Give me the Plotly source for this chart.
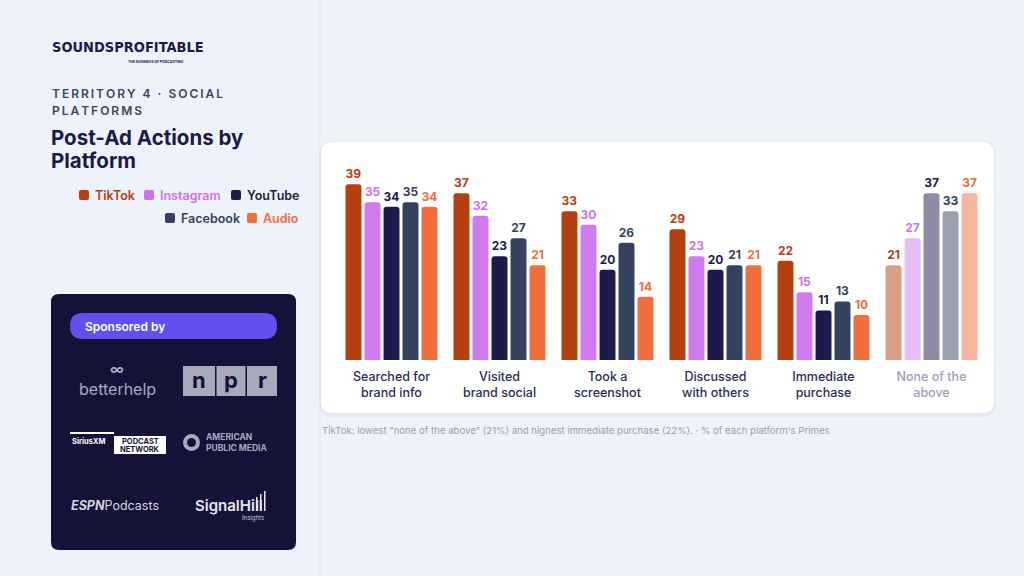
import plotly.graph_objects as go

# ---- data ----
categories = ["Searched for<br>brand info", "Visited<br>brand social", "Took a<br>screenshot",
              "Discussed<br>with others", "Immediate<br>purchase", "None of the<br>above"]
platforms = ["TikTok", "Instagram", "YouTube", "Facebook", "Audio"]
tiktok = [39, 37, 33, 29, 22, 21]
instagram = [35, 32, 30, 23, 15, 27]
youtube = [34, 23, 20, 20, 11, 37]
facebook = [35, 27, 26, 21, 13, 33]
audio = [34, 21, 14, 21, 10, 37]
footnote = ("TikTok: lowest \"none of the above\" (21%) and highest immediate purchase (22%). "
            "· % of each platform's Primes")

series = [tiktok, instagram, youtube, facebook, audio]
colors = ["#b5400f", "#d07af0", "#1c1a4a", "#33435e", "#f26d3d"]
label_colors = ["#b5400f", "#cf72ef", "#1c1a4a", "#33435e", "#f26d3d"]

W, H = 1024, 576
FONT = "Inter, Noto Sans, sans-serif"


def px(x):
    return x / W


def py(y):
    return 1 - y / H


def rounded_rect(x0, y0, x1, y1, r):
    # pixel coords -> paper path with rounded corners
    rx, ry = r / W, r / H
    a, b, c, d = px(x0), py(y1), px(x1), py(y0)
    return (f"M{a + rx},{b} L{c - rx},{b} Q{c},{b} {c},{b + ry} "
            f"L{c},{d - ry} Q{c},{d} {c - rx},{d} L{a + rx},{d} "
            f"Q{a},{d} {a},{d - ry} L{a},{b + ry} Q{a},{b} {a + rx},{b} Z")


fig = go.Figure()

n_cat = len(categories)
for name, vals, col, lcol in zip(platforms, series, colors, label_colors):
    fig.add_trace(go.Bar(
        x=categories, y=vals, name=name,
        marker=dict(color=col, opacity=[1] * (n_cat - 1) + [0.5], line=dict(width=0)),
        text=vals, textposition="outside", cliponaxis=False,
        textfont=dict(family=FONT, size=12, color=lcol, weight="bold"),
        hoverinfo="skip", showlegend=False,
    ))

shapes = []
annotations = []

# left panel + divider
shapes.append(dict(type="rect", xref="paper", yref="paper", x0=0, x1=px(320), y0=0, y1=1,
                   fillcolor="#eef2fb", line=dict(width=0), layer="below"))
shapes.append(dict(type="line", xref="paper", yref="paper", x0=px(320), x1=px(320), y0=0, y1=1,
                   line=dict(color="#e3e7f1", width=1), layer="below"))

# chart card with soft shadow
shapes.append(dict(type="path", xref="paper", yref="paper", path=rounded_rect(319, 141, 996, 417, 14),
                   fillcolor="rgba(120,130,170,0.08)", line=dict(width=0), layer="below"))
shapes.append(dict(type="path", xref="paper", yref="paper", path=rounded_rect(321, 142, 994, 413, 12),
                   fillcolor="white", line=dict(width=0), layer="below"))

# sponsor box
shapes.append(dict(type="path", xref="paper", yref="paper", path=rounded_rect(51, 294, 296, 550, 8),
                   fillcolor="#15123a", line=dict(width=0), layer="below"))
shapes.append(dict(type="path", xref="paper", yref="paper", path=rounded_rect(70, 313, 277, 339, 13),
                   fillcolor="#6150f0", line=dict(width=0), layer="below"))


def text(x, y, s, size, color, weight="normal", xanchor="left", family=FONT, style="normal"):
    annotations.append(dict(x=px(x), y=py(y), xref="paper", yref="paper", text=s, showarrow=False,
                            xanchor=xanchor, yanchor="middle",
                            font=dict(family=family, size=size, color=color, weight=weight, style=style)))


def spaced(s):
    return "\u2009".join(s)


# header
text(50, 47, "SOUNDSPROFITABLE", 14.5, "#1c1a4a", 800,
     family="DejaVu Sans Condensed, Inter, sans-serif")
text(186, 62, "THE BUSINESS OF PODCASTING", 3.5, "#1c1a4a", "bold", xanchor="right")
text(50, 94, spaced("TERRITORY 4 · SOCIAL"), 12, "#3c4560", 600)
text(50, 110, spaced("PLATFORMS"), 12, "#3c4560", 600)
text(49, 137, "Post-Ad Actions by", 20.5, "#1c1a4a", "bold")
text(49, 160, "Platform", 20.5, "#1c1a4a", "bold")

# legend
legend_pos = [(79, 195), (144, 195), (231, 195), (165, 218), (247, 218)]
for name, col, (lx, ly) in zip(platforms, label_colors, legend_pos):
    shapes.append(dict(type="path", xref="paper", yref="paper",
                       path=rounded_rect(lx, ly - 5, lx + 10, ly + 5, 2),
                       fillcolor=col, line=dict(width=0)))
    text(lx + 14, ly, name, 12.5, col, 600)

# sponsors
text(83, 326, "Sponsored by", 12, "white", 600)
text(117, 368, "∞", 14, "#a9a9bd", "bold", xanchor="center")
text(117, 389, "betterhelp", 16, "#a9a9bd", "normal", xanchor="center")
for bx0, bx1, letter in [(183, 215, "n"), (216.5, 245.5, "p"), (247, 277, "r")]:
    shapes.append(dict(type="rect", xref="paper", yref="paper", x0=px(bx0), x1=px(bx1),
                       y0=py(396), y1=py(366), fillcolor="#a9a9bc", line=dict(width=0)))
    text((bx0 + bx1) / 2, 380, letter, 22, "#15123a", "bold", xanchor="center")

shapes.append(dict(type="rect", xref="paper", yref="paper", x0=px(70), x1=px(114), y0=py(434),
                   y1=py(432), fillcolor="white", line=dict(width=0)))
text(70, 441, "SiriusXM", 7.5, "white", "bold")
shapes.append(dict(type="rect", xref="paper", yref="paper", x0=px(114), x1=px(166), y0=py(454),
                   y1=py(436), fillcolor="white", line=dict(width=0)))
text(140, 441, "PODCAST", 7.5, "#15123a", "bold", xanchor="center")
text(140, 449, "NETWORK", 7.5, "#15123a", "bold", xanchor="center")

shapes.append(dict(type="circle", xref="paper", yref="paper", x0=px(185), x1=px(198), y0=py(449),
                   y1=py(436), fillcolor="rgba(0,0,0,0)", line=dict(color="#a9a9bc", width=4)))
text(204, 437, "AMERICAN", 8.5, "#a9a9bc", "bold")
text(204, 448, "PUBLIC MEDIA", 8.5, "#a9a9bc", "bold")

text(69, 505, "<b><i>ESPN</i></b>Podcasts", 12.5, "#d4d4de", "normal")
text(193, 505, "SignalHill", 15, "#e6e6ee", 600)
text(266, 518, "Insights", 6, "#c8c8d4", "normal", xanchor="right")
for i, top in enumerate([497, 494, 491]):
    shapes.append(dict(type="rect", xref="paper", yref="paper", x0=px(256 + i * 4), x1=px(257.5 + i * 4),
                       y0=py(511), y1=py(top), fillcolor="#e6e6ee", line=dict(width=0)))

# footnote
text(320, 430, footnote, 9.6, "#9aa0ad", "normal")

tick_text = [c if i < n_cat - 1 else f"<span style='color:#9aa0b5'>{c}</span>"
             for i, c in enumerate(categories)]

fig.update_layout(
    width=W, height=H,
    margin=dict(l=0, r=0, t=0, b=0),
    paper_bgcolor="#f0f2f9",
    plot_bgcolor="rgba(0,0,0,0)",
    barmode="group", bargap=0.12, bargroupgap=0.16,
    barcornerradius=3,
    font=dict(family=FONT),
    xaxis=dict(domain=[px(337.5), px(985.5)], tickmode="array", tickvals=categories, ticktext=tick_text,
               showgrid=False, showline=False, zeroline=False, ticks="", ticklabelstandoff=7,
               tickfont=dict(family=FONT, size=12.5, color="#2a2d55", weight=500)),
    yaxis=dict(domain=[py(360), py(160)], range=[0, 44.35], visible=False, showgrid=False),
    shapes=shapes,
    annotations=annotations,
    showlegend=False,
)

# drop the browser's default body margin so the page is exactly the figure
fig.write_html("out.html", config={"displayModeBar": False},
               post_script="document.body.style.margin='0';")
